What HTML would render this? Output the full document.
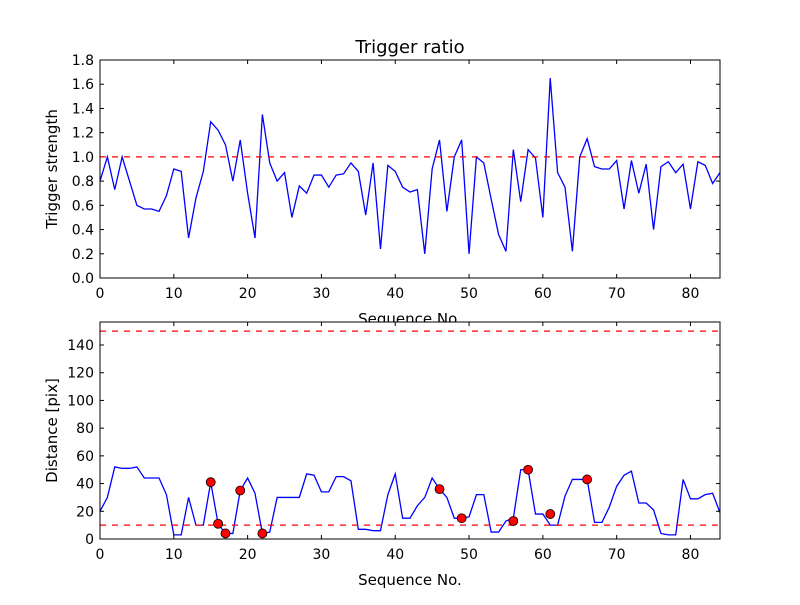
<!DOCTYPE html>
<html><head><meta charset="utf-8"><style>
body{margin:0;background:#fff;}
svg text{font-family:"DejaVu Sans","Liberation Sans",sans-serif;fill:#000;}
</style></head><body>
<svg id="c" width="800" height="600" viewBox="0 0 800 600"></svg>
<script>
const ratioValues=[0.80,1.0,0.73,1.0,0.8,0.6,0.57,0.57,0.55,0.68,0.9,0.88,0.33,0.66,0.88,1.29,1.22,1.1,0.8,1.14,0.7,0.33,1.35,0.95,0.8,0.87,0.5,0.76,0.7,0.85,0.85,0.75,0.85,0.86,0.95,0.88,0.52,0.95,0.24,0.93,0.88,0.75,0.71,0.73,0.2,0.9,1.14,0.55,1.0,1.14,0.2,1.0,0.95,0.65,0.36,0.22,1.06,0.63,1.06,0.99,0.5,1.65,0.87,0.75,0.22,1.0,1.15,0.92,0.9,0.9,0.97,0.57,0.97,0.7,0.94,0.4,0.92,0.96,0.87,0.94,0.57,0.96,0.93,0.78,0.87];
const distValues=[20,30,52,51,51,52,44,44,44,32,3,3,30,10,10,41,11,4,4,35,44,33,4,5,30,30,30,30,47,46,34,34,45,45,42,7,7,6,6,32,47,15,15,24,30,44,36,30,15,15,16,32,32,5,5,13,15,50,50,18,18,10,10,31,43,43,43,12,12,23,38,46,49,26,26,21,4,3,3,43,29,29,32,33,19];
const markerX=[15,16,17,19,22,46,49,56,58,61,66];
const markerY=[41,11,4,35,4,36,15,13,50,18,43];
const topTicks=[0.0,0.2,0.4,0.6,0.8,1.0,1.2,1.4,1.6,1.8];
const botTicks=[0,20,40,60,80,100,120,140];
const xTicks=[0,10,20,30,40,50,60,70,80];
const ratioThreshold=1.0;
const distThresholds=[10,150];

const svg=document.getElementById('c');
const NS='http://www.w3.org/2000/svg';
function mk(tag,attrs,name,parent){const e=document.createElementNS(NS,tag);for(const k in attrs)e.setAttribute(k,attrs[k]);


(parent||svg).appendChild(e);return e;}
function txt(x,y,s,size,anchor,name,rot){const t=mk('text',{x:x,y:y,'font-size':size,'text-anchor':anchor},name);t.textContent=s;if(rot)t.setAttribute('transform','rotate(-90 '+x+' '+y+')');return t;}

const L=100,R=720;
const xs=v=>L+(v/84)*(R-L);
function panel(top,bottom,ymax,vals,ticks,fmt,ylabel,prefix){
  const ys=v=>bottom-(v/ymax)*(bottom-top);
  mk('rect',{x:L,y:top,width:R-L,height:bottom-top,fill:'#fff'},prefix+'-plot-area');
  let d=vals.map((v,i)=>(i?'L':'M')+xs(i).toFixed(2)+','+ys(v).toFixed(2)).join('');
  mk('path',{d:d,fill:'none',stroke:'#0000ff','stroke-width':1.3},prefix+'-line');
  ticks.forEach(t=>{const y=ys(t);
    mk('line',{x1:L,y1:y,x2:L+4,y2:y,stroke:'#000'},prefix+'-ytick');
    mk('line',{x1:R,y1:y,x2:R-4,y2:y,stroke:'#000'},prefix+'-ytick-right');
    txt(L-6,y+5,fmt(t),14,'end',prefix+'-ytick-label');});
  xTicks.forEach(t=>{const x=xs(t);
    mk('line',{x1:x,y1:bottom,x2:x,y2:bottom-4,stroke:'#000'},prefix+'-xtick');
    mk('line',{x1:x,y1:top,x2:x,y2:top+4,stroke:'#000'},prefix+'-xtick-top');
    txt(x,bottom+20,String(t),14,'middle',prefix+'-xtick-label');});
  txt(410,bottom+46,'Sequence No.',15,'middle',prefix+'-x-axis-title');
  txt(57,(top+bottom)/2,ylabel,15,'middle',prefix+'-y-axis-title',true);
  return ys;
}
const ys1=panel(60,278,1.8,ratioValues,topTicks,v=>v.toFixed(1),'Trigger strength','top');
mk('line',{x1:L,y1:ys1(ratioThreshold),x2:R,y2:ys1(ratioThreshold),stroke:'#ff0000','stroke-width':1.3,'stroke-dasharray':'6,6'},'threshold-line');
mk('rect',{x:L,y:60,width:R-L,height:218,fill:'none',stroke:'#000','stroke-width':1},'top-frame');
txt(410,53,'Trigger ratio',18,'middle','chart-title');

const ys2=panel(322,539,156.6,distValues,botTicks,v=>String(v),'Distance [pix]','bottom');
distThresholds.forEach(t=>mk('line',{x1:L,y1:ys2(t),x2:R,y2:ys2(t),stroke:'#ff0000','stroke-width':1.3,'stroke-dasharray':'6,6'},'distance-threshold-line'));
markerX.forEach((x,i)=>mk('circle',{cx:xs(x),cy:ys2(markerY[i]),r:4.5,fill:'#ff0000',stroke:'#000','stroke-width':0.8},'outlier-marker'));
mk('rect',{x:L,y:322,width:R-L,height:217,fill:'none',stroke:'#000','stroke-width':1},'bottom-frame');
</script>
</body></html>
